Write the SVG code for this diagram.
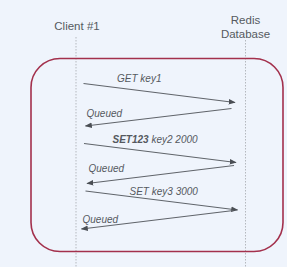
<svg xmlns="http://www.w3.org/2000/svg" width="287" height="267" viewBox="0 0 287 267">
<style>
.bg{fill:#eff4fc}
.life{stroke:#b4b8be;stroke-width:1;stroke-dasharray:1.5 1.5;fill:none}
.hdr{font-family:"Liberation Sans",Arial,sans-serif;font-size:11.5px;fill:#555a60;text-anchor:middle}
.lbl{font-family:"Liberation Sans",Arial,sans-serif;font-size:10px;font-style:italic;fill:#55595f}
.msg{stroke:#60646a;stroke-width:1.1;fill:none;marker-end:url(#ah)}
.box{fill:none;stroke:#a3304c;stroke-width:1.6}
</style>
<defs>
<marker id="ah" viewBox="0 0 10 10" refX="9" refY="5" markerWidth="7" markerHeight="7" markerUnits="userSpaceOnUse" orient="auto">
<path d="M0,1 L10,5 L0,9 z" fill="#4a4e54"/>
</marker>
</defs>
<rect class="bg" x="0" y="0" width="287" height="267"/>
<g id="client">
<text class="hdr" x="77" y="30">Client #1</text>
<line class="life" x1="76" y1="37" x2="76" y2="267"/>
</g>
<g id="redis">
<text class="hdr" x="245.5" y="24">Redis</text>
<text class="hdr" x="245.5" y="37.5">Database</text>
<line class="life" x1="245.5" y1="40" x2="245.5" y2="267"/>
</g>
<g id="transaction">
<rect class="box" x="31" y="58.5" width="252" height="193" rx="29" ry="29"/>
</g>
<g id="connectors">
<line class="msg" x1="83.5" y1="83.5" x2="235" y2="102.5"/>
<text class="lbl" x="117" y="82">GET key1</text>
<line class="msg" x1="231.5" y1="108.5" x2="85.5" y2="126"/>
<text class="lbl" x="86.5" y="116.5">Queued</text>
<line class="msg" x1="84" y1="143.5" x2="236" y2="162.5"/>
<text class="lbl" x="112.5" y="142.5"><tspan font-weight="bold">SET123</tspan> key2 2000</text>
<line class="msg" x1="234" y1="165.5" x2="87" y2="183.5"/>
<text class="lbl" x="88.5" y="171.5">Queued</text>
<line class="msg" x1="85.5" y1="191" x2="237.5" y2="210"/>
<text class="lbl" x="129.5" y="194.5">SET key3 3000</text>
<line class="msg" x1="233.5" y1="210.5" x2="81.5" y2="229"/>
<text class="lbl" x="82.5" y="222.5">Queued</text>
</g>
</svg>
